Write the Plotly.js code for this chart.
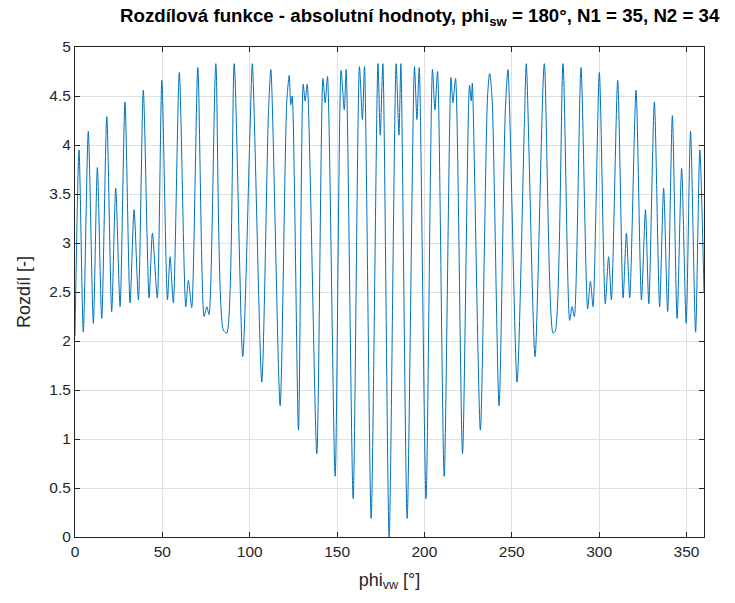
<!DOCTYPE html>
<html>
<head>
<meta charset="utf-8">
<script src="https://cdn.plot.ly/plotly-3.0.1.min.js"></script>
<style>html,body{margin:0;padding:0;background:#fff;}#chart{width:735px;height:603px;}</style>
</head>
<body>
<div id="chart"></div>
<script>
// phi_vw [deg] keypoints
const phiVw = [
  0, 2.3, 4.75, 7.6, 10.5, 12.8, 15.3, 18.2, 21.0, 23.3, 25.8, 28.6, 31.5, 33.8, 36.3, 39.1,
  42.4, 44.3, 47.1, 49.7, 52.9, 54.4, 56.3, 59.7, 63.4, 64.9, 66.8, 70.3, 73.9, 75.4, 76.7, 80.6,
  84.9, 86.9, 91.1,
  96.0, 100.2, 101.5,
  106.9, 110.7, 112.1,
  117.4, 121.2, 122.6, 123.5, 124.3,
  127.9, 130.6, 131.7, 132.9,
  138.4, 141.9, 143.2, 144.5,
  148.9, 152.3, 154.1, 155.2,
  159.2, 162.8, 164.5, 165.7,
  169.5, 173.4, 174.7, 176.2,
  179.8, 183.8, 185.4, 186.5,
  190.1, 194.3, 195.7, 197.0,
  200.9, 204.6, 206.0, 207.5,
  211.3, 215.2, 216.3, 217.8,
  221.8, 225.8, 226.8, 227.4,
  232.0, 236.1, 237.3, 238.7,
  242.7, 246.3, 247.8,
  253.0, 257.2, 258.3,
  263.3, 268.6,
  273.6, 274.9, 279.3,
  283.1, 284.5, 285.8, 289.6,
  293.4, 295.0, 296.5, 300.1,
  303.5, 305.4, 307.0, 310.6,
  313.7, 315.6, 317.5, 321.1,
  324.2, 326.5, 328.4, 331.6,
  334.6, 336.9, 339.2, 341.9,
  344.6, 347.2, 349.8, 352.3,
  355.2, 357.6, 360
];
// Rozdil [-] values
const rozdil = [
  2.05, 3.95, 2.09, 4.14, 2.18, 3.77, 2.23, 4.29, 2.30, 3.56, 2.35, 4.44, 2.39, 3.34, 2.42, 4.56,
  2.44, 3.10, 2.44, 4.66, 2.42, 2.86, 2.39, 4.74, 2.35, 2.62, 2.34, 4.79, 2.25, 2.35, 2.27, 4.83,
  2.11, 2.08, 4.83,
  1.84, 4.17, 4.83,
  1.58, 4.32, 4.77,
  1.34, 4.44, 4.71, 4.41, 4.50,
  1.09, 4.62, 4.45, 4.62,
  0.85, 4.68, 4.43, 4.70,
  0.62, 4.76, 4.36, 4.77,
  0.39, 4.80, 4.26, 4.80,
  0.19, 4.83, 4.10, 4.83,
  0.00, 4.83, 4.10, 4.83,
  0.19, 4.80, 4.26, 4.79,
  0.39, 4.77, 4.36, 4.75,
  0.62, 4.69, 4.43, 4.68,
  0.85, 4.61, 4.45, 4.63,
  1.09, 4.49, 4.73, 4.48,
  1.34, 4.36, 4.77,
  1.58, 4.22, 4.83,
  1.84, 4.83,
  2.08, 2.10, 4.83,
  2.21, 2.35, 2.25, 4.79,
  2.33, 2.61, 2.35, 4.74,
  2.38, 2.86, 2.42, 4.66,
  2.44, 3.10, 2.44, 4.56,
  2.42, 3.34, 2.38, 4.44,
  2.35, 3.56, 2.30, 4.30,
  2.23, 3.76, 2.18, 4.14,
  2.09, 3.95, 2.50
];
const xTicks = [0, 50, 100, 150, 200, 250, 300, 350];
const yTicks = [0, 0.5, 1, 1.5, 2, 2.5, 3, 3.5, 4, 4.5, 5];

const axisCommon = {
  showline: true, mirror: 'ticks', linecolor: '#262626', linewidth: 1,
  ticks: 'inside', ticklen: 5, tickcolor: '#262626',
  showgrid: true, gridcolor: '#e0e0e0', gridwidth: 1,
  zeroline: false,
  tickfont: {family: 'Liberation Sans, Arial, sans-serif', size: 15.5, color: '#262626'}
};

Plotly.newPlot('chart', [{
  x: phiVw, y: rozdil, type: 'scatter', mode: 'lines',
  line: {color: '#0072BD', width: 1, shape: 'spline', smoothing: 0.7},
  hoverinfo: 'skip'
}], {
  width: 735, height: 603,
  paper_bgcolor: '#ffffff', plot_bgcolor: '#ffffff',
  margin: {l: 75, r: 31, t: 47, b: 66},
  showlegend: false,
  title: {
    text: 'Rozdílová funkce - absolutní hodnoty, phi<sub>sw</sub> = 180°, N1 = 35, N2 = 34',
    font: {family: 'Liberation Sans, Arial, sans-serif', size: 18.7, color: '#000000', weight: 'bold'},
    x: 0.571, xanchor: 'center', y: 0.985, yanchor: 'top'
  },
  xaxis: Object.assign({}, axisCommon, {
    range: [0, 360], tickvals: xTicks, ticktext: xTicks.map(String),
    title: {text: 'phi<sub>vw</sub> [°]', standoff: 14,
      font: {family: 'Liberation Sans, Arial, sans-serif', size: 18, color: '#262626'}}
  }),
  yaxis: Object.assign({}, axisCommon, {
    range: [0, 5], tickvals: yTicks, ticktext: yTicks.map(String),
    title: {text: 'Rozdíl [-]', standoff: 14,
      font: {family: 'Liberation Sans, Arial, sans-serif', size: 18, color: '#262626'}}
  })
}, {staticPlot: true});
</script>
</body>
</html>
